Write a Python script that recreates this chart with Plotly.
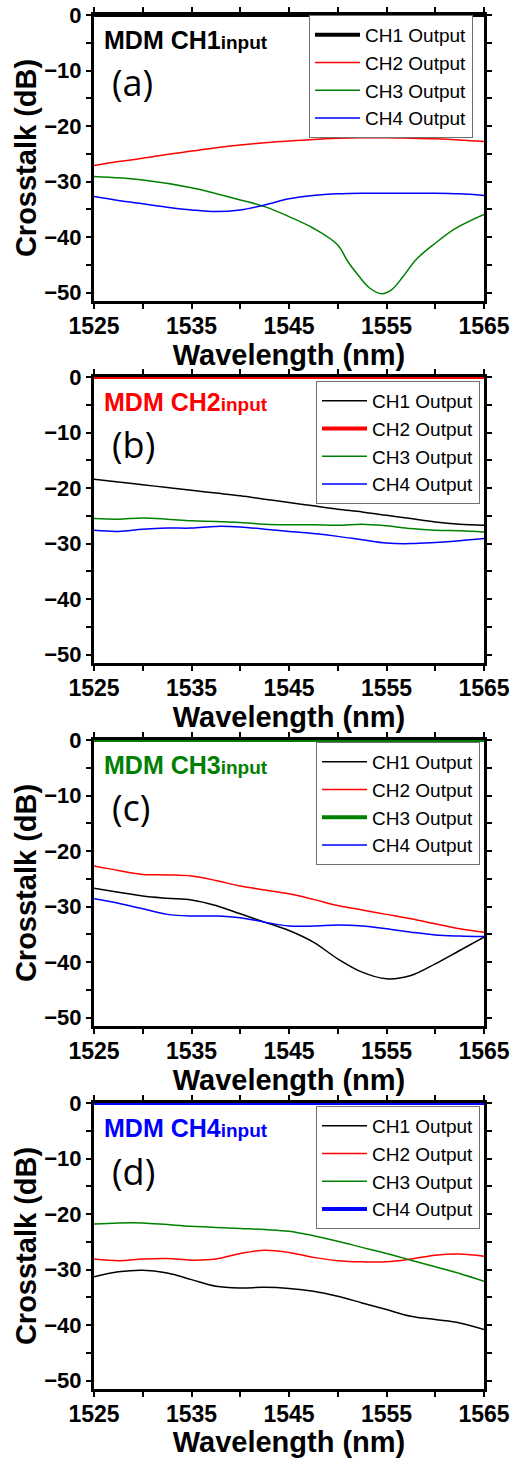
import plotly.graph_objects as go

# ---------------- data ----------------
wl = [1525, 1527.5, 1530, 1532.5, 1535, 1537.5, 1540, 1542.5, 1545,
      1547.5, 1550, 1552.5, 1555, 1557.5, 1560, 1562.5, 1565]

# input channel is plotted at 0 dB across the band
input_wl = [1525, 1565]
input_db = [0, 0]

# (a) MDM CH1 input
a_ch2 = [-27.1, -26.4, -25.8, -25.1, -24.5, -23.9, -23.4, -23.0, -22.7,
         -22.4, -22.2, -22.1, -22.1, -22.2, -22.3, -22.5, -22.8]
a_ch3_wl = [1525, 1530, 1535, 1540, 1542.5, 1545, 1547.5, 1550, 1551,
            1552.2, 1553.3, 1554.5, 1555.5, 1556.7, 1558, 1560, 1562, 1565]
a_ch3 = [-29.1, -29.7, -31.1, -33.3, -34.5, -36.3, -38.4, -41.4, -44.3,
         -47.1, -49.2, -50.2, -49.5, -47.1, -44.1, -41.1, -38.5, -35.9]
a_ch4 = [-32.7, -33.4, -34.0, -34.6, -35.1, -35.4, -35.1, -34.2, -33.1,
         -32.5, -32.2, -32.1, -32.1, -32.1, -32.1, -32.2, -32.5]

# (b) MDM CH2 input
b_ch1 = [-18.4, -18.9, -19.4, -19.9, -20.4, -20.9, -21.4, -22.0, -22.6,
         -23.2, -23.8, -24.3, -24.9, -25.5, -26.1, -26.5, -26.7]
b_ch3 = [-25.5, -25.6, -25.4, -25.6, -25.9, -26.0, -26.2, -26.5, -26.6,
         -26.6, -26.7, -26.5, -26.8, -27.3, -27.6, -27.7, -27.9]
b_ch4 = [-27.6, -27.8, -27.4, -27.2, -27.2, -26.9, -27.0, -27.4, -27.8,
         -28.2, -28.7, -29.3, -29.9, -30.0, -29.8, -29.5, -29.1]

# (c) MDM CH3 input
c_ch1 = [-26.7, -27.4, -28.1, -28.5, -28.8, -29.8, -31.3, -32.8, -34.3,
         -36.4, -39.4, -41.8, -43.0, -42.4, -40.3, -37.9, -35.5]
c_ch2 = [-22.7, -23.5, -24.2, -24.3, -24.5, -25.3, -26.3, -27.0, -27.7,
         -28.7, -29.8, -30.6, -31.4, -32.2, -33.1, -34.0, -34.6]
c_ch4 = [-28.6, -29.4, -30.4, -31.4, -31.7, -31.7, -32.0, -32.8, -33.5,
         -33.5, -33.3, -33.5, -34.0, -34.6, -35.1, -35.3, -35.4]

# (d) MDM CH4 input
d_ch1 = [-31.3, -30.4, -30.1, -30.6, -31.8, -33.0, -33.3, -33.2, -33.4,
         -33.9, -34.8, -36.0, -37.2, -38.4, -39.0, -39.6, -40.8]
d_ch2 = [-28.1, -28.4, -28.1, -28.0, -28.3, -28.1, -27.1, -26.5, -26.9,
         -27.8, -28.4, -28.6, -28.6, -28.1, -27.4, -27.2, -27.6]
d_ch3 = [-21.8, -21.6, -21.6, -21.9, -22.2, -22.4, -22.6, -22.8, -23.1,
         -23.9, -24.9, -26.0, -27.1, -28.3, -29.5, -30.7, -32.1]

series_names = ["CH1 Output", "CH2 Output", "CH3 Output", "CH4 Output"]
input_names = ["CH1", "CH2", "CH3", "CH4"]
panel_labels = ["(a)", "(b)", "(c)", "(d)"]
x_tickvals = [1525, 1535, 1545, 1555, 1565]
x_ticktext = ["1525", "1535", "1545", "1555", "1565"]
y_tickvals = [0, -10, -20, -30, -40, -50]
y_ticktext = ["0", "\u221210", "\u221220", "\u221230", "\u221240", "\u221250"]
x_title = "Wavelength (nm)"
y_title = "Crosstalk (dB)"

panels = [
    [(input_wl, input_db), (wl, a_ch2), (a_ch3_wl, a_ch3), (wl, a_ch4)],
    [(wl, b_ch1), (input_wl, input_db), (wl, b_ch3), (wl, b_ch4)],
    [(wl, c_ch1), (wl, c_ch2), (input_wl, input_db), (wl, c_ch4)],
    [(wl, d_ch1), (wl, d_ch2), (wl, d_ch3), (input_wl, input_db)],
]
input_index = [0, 1, 2, 3]
show_y_title = [True, False, True, True]

# ---------------- styling / layout ----------------
W, H = 523, 1458
COLORS = ["#000000", "#FF0000", "#008000", "#0000FF"]
FONT = "Liberation Sans, Arial, sans-serif"

PLOT_L, PLOT_R = 94, 484
PANEL_TOP = [15, 377, 740, 1103]
PANEL_H = 286
LEGEND_RIGHT = [473, 480, 480, 480]
LEGEND_TOP = [15, 381, 742, 1106]


def fx(p):
    return p / W


def fy(p):
    return 1 - p / H


fig = go.Figure()
annotations = []
layout = {}

for i, panel in enumerate(panels):
    k = "" if i == 0 else str(i + 1)
    leg = "legend" + k
    for j, (xs, ys) in enumerate(panel):
        is_input = j == input_index[i]
        fig.add_trace(go.Scatter(
            x=xs, y=ys, mode="lines", name=series_names[j],
            line=dict(color=COLORS[j], width=4 if is_input else 1.5,
                      shape="linear" if is_input else "spline", smoothing=1.0),
            cliponaxis=False,
            xaxis="x" + k, yaxis="y" + k, legend=leg, showlegend=True,
        ))

    top = PANEL_TOP[i]
    axis_common = dict(
        showline=True, linecolor="black", linewidth=3, mirror="allticks",
        ticks="outside", ticklen=5, tickwidth=2, tickcolor="black",
        showgrid=False, zeroline=False, layer="below traces",
    )
    layout["xaxis" + k] = dict(
        axis_common, domain=[fx(PLOT_L), fx(PLOT_R)], anchor="y" + k,
        range=[1525, 1565], tickmode="array", tickvals=x_tickvals,
        ticktext=x_ticktext, ticklabelstandoff=-3,
        tickfont=dict(family=FONT, size=23, color="black", weight="bold"),
        minor=dict(dtick=5, tick0=1525, ticks="outside", ticklen=5,
                   tickwidth=2, tickcolor="black"),
        title=dict(text=x_title, standoff=0,
                   font=dict(family=FONT, size=29, color="black", weight="bold")),
    )
    layout["yaxis" + k] = dict(
        axis_common, domain=[fy(top + PANEL_H), fy(top)], anchor="x" + k,
        range=[-51.5, 0], tickmode="array", tickvals=y_tickvals,
        ticktext=y_ticktext,
        tickfont=dict(family=FONT, size=22, color="black", weight="bold"),
        minor=dict(dtick=5, tick0=0, ticks="outside", ticklen=5,
                   tickwidth=2, tickcolor="black"),
        title=dict(text=y_title if show_y_title[i] else "", standoff=0,
                   font=dict(family=FONT, size=29, color="black", weight="bold")),
    )
    layout[leg] = dict(
        x=fx(LEGEND_RIGHT[i]), xanchor="right", y=fy(LEGEND_TOP[i]), yanchor="top",
        bgcolor="white", bordercolor="#707070", borderwidth=1,
        font=dict(family=FONT, size=19, color="black"),
        itemwidth=45, tracegroupgap=0,
    )
    annotations.append(dict(
        xref="paper", yref="paper", x=fx(102), y=fy(top + 25),
        xanchor="left", yanchor="middle", showarrow=False,
        text="MDM " + input_names[i] + "<span style='font-size:19px'>input</span>",
        font=dict(family=FONT, size=25, color=COLORS[i], weight="bold"),
    ))
    annotations.append(dict(
        xref="paper", yref="paper", x=fx(110), y=fy(top + 68),
        xanchor="left", yanchor="middle", showarrow=False,
        text=panel_labels[i],
        font=dict(family="Open Sans, Noto Sans, sans-serif", size=36, color="black"),
    ))

fig.update_layout(
    width=W, height=H, margin=dict(l=0, r=0, t=0, b=0),
    paper_bgcolor="white", plot_bgcolor="white", template="none",
    annotations=annotations, **layout,
)

fig.write_html("out.html", config={"displayModeBar": False},
               post_script="document.body.style.margin='0';"
                           "document.body.style.padding='0';")
